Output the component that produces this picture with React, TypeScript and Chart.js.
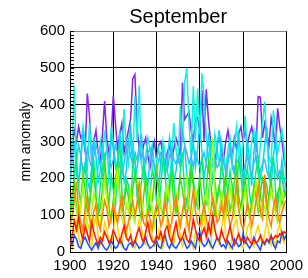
import React, { useEffect, useRef } from "react";
import { Chart, registerables } from "chart.js";

Chart.register(...registerables);

const startYear = 1900;
const endYear = 2000;
const xTicks = [1900, 1920, 1940, 1960, 1980, 2000];
const yTicks = [0, 100, 200, 300, 400, 500, 600];

const purple = [
  240, 290, 330, 300, 340, 310, 320, 270, 430, 370,
  250, 300, 330, 270, 240, 320, 410, 310, 270, 300,
  425, 350, 280, 320, 350, 270, 300, 330, 360, 470,
  482, 340, 280, 250, 290, 310, 260, 230, 270, 300,
  250, 290, 300, 260, 240, 270, 290, 250, 280, 310,
  290, 260, 460, 360, 370, 380, 330, 300, 360, 365,
  330, 440, 300, 442, 360, 300, 260, 240, 290, 320,
  280, 250, 300, 330, 290, 260, 310, 280, 320, 340,
  300, 330, 290, 320, 340, 300, 280, 422, 420, 310,
  350, 320, 290, 364, 330, 280, 390, 340, 300, 250, 220,
];

const turquoise = [
  200, 290, 451, 230, 180, 260, 340, 300, 220, 350,
  260, 200, 170, 230, 300, 250, 330, 280, 210, 340,
  300, 250, 220, 190, 260, 388, 280, 240, 320, 230,
  422, 300, 451, 240, 200, 260, 310, 280, 230, 190,
  250, 280, 230, 300, 270, 220, 190, 260, 350, 280,
  240, 397, 300, 460, 499, 350, 260, 450, 300, 444,
  320, 485, 420, 310, 250, 290, 230, 320, 280, 240,
  300, 260, 220, 280, 310, 250, 290, 340, 270, 230,
  290, 370, 260, 240, 300, 330, 250, 210, 290, 350,
  408, 300, 260, 240, 385, 330, 270, 300, 331, 280, 190,
];

const cyan = [
  180, 250, 300, 210, 190, 240, 330, 280, 200, 170,
  230, 310, 260, 190, 220, 280, 240, 170, 200, 320,
  280, 230, 210, 330, 250, 190, 220, 300, 340, 260,
  200, 230, 270, 320, 240, 210, 180, 260, 290, 230,
  200, 170, 250, 280, 210, 240, 310, 270, 190, 220,
  260, 240, 330, 290, 210, 180, 250, 300, 230, 280,
  350, 270, 200, 240, 310, 260, 190, 220, 280, 330,
  250, 200, 180, 240, 290, 230, 210, 270, 320, 260,
  190, 220, 300, 250, 180, 270, 330, 240, 200, 230,
  290, 340, 210, 180, 260, 300, 220, 190, 250, 200, 170,
];

const skyBlue = [
  230, 270, 210, 250, 290, 260, 220, 240, 280, 250,
  230, 260, 290, 270, 240, 210, 250, 280, 260, 230,
  250, 290, 270, 230, 210, 240, 280, 300, 260, 240,
  270, 250, 290, 300, 260, 240, 270, 280, 250, 230,
  220, 250, 270, 260, 240, 220, 260, 280, 250, 240,
  260, 230, 250, 290, 270, 240, 260, 230, 270, 250,
  230, 250, 270, 240, 220, 260, 280, 250, 230, 240,
  260, 240, 220, 250, 270, 240, 220, 250, 240, 230,
  210, 240, 260, 230, 210, 240, 260, 230, 220, 240,
  250, 220, 200, 230, 250, 220, 200, 220, 200, 170, 150,
];

const springGreen = [
  150, 110, 220, 260, 170, 130, 190, 240, 160, 120,
  200, 250, 140, 110, 180, 230, 270, 150, 130, 210,
  170, 120, 250, 290, 160, 140, 200, 180, 120, 230,
  260, 150, 130, 190, 240, 170, 110, 160, 220, 200,
  140, 120, 180, 250, 210, 130, 160, 230, 190, 110,
  150, 220, 270, 160, 130, 190, 240, 200, 140, 120,
  210, 260, 170, 130, 150, 230, 280, 190, 140, 170,
  240, 200, 120, 160, 220, 180, 130, 150, 250, 210,
  140, 190, 230, 160, 120, 170, 220, 250, 150, 130,
  200, 180, 140, 230, 260, 170, 120, 190, 220, 160, 150,
];

const green = [
  100, 160, 190, 120, 90, 140, 210, 170, 110, 130,
  180, 220, 150, 100, 120, 170, 230, 190, 120, 90,
  140, 200, 240, 160, 110, 130, 180, 150, 100, 170,
  210, 180, 120, 90, 150, 200, 160, 110, 140, 190,
  230, 170, 120, 100, 160, 140, 190, 210, 130, 110,
  150, 200, 170, 120, 90, 140, 220, 180, 130, 160,
  200, 150, 110, 170, 240, 190, 130, 100, 150, 180,
  130, 170, 210, 160, 110, 140, 190, 230, 150, 120,
  170, 200, 140, 100, 130, 180, 150, 110, 160, 200,
  170, 120, 150, 190, 140, 110, 160, 180, 130, 150, 170,
];

const lime = [
  60, 90, 150, 110, 70, 130, 180, 120, 80, 60,
  110, 160, 130, 90, 70, 140, 200, 150, 100, 80,
  120, 170, 230, 140, 90, 70, 130, 110, 160, 100,
  80, 130, 190, 150, 100, 90, 140, 170, 110, 70,
  100, 150, 120, 80, 130, 180, 140, 90, 110, 160,
  120, 80, 100, 150, 210, 130, 90, 120, 170, 140,
  100, 80, 130, 160, 120, 200, 310, 150, 90, 110,
  160, 120, 90, 140, 180, 130, 100, 150, 110, 80,
  130, 170, 120, 90, 110, 150, 190, 130, 100, 140,
  120, 90, 130, 170, 150, 100, 80, 120, 160, 130, 110,
];

const yellow = [
  30, 10, 50, 80, 40, 20, 60, 90, 50, 25,
  15, 70, 100, 40, 20, 35, 80, 60, 30, 10,
  50, 110, 70, 30, 15, 60, 40, 85, 55, 20,
  10, 45, 90, 65, 30, 20, 55, 75, 40, 15,
  25, 60, 35, 10, 50, 90, 70, 30, 20, 65,
  80, 45, 15, 30, 100, 60, 25, 10, 55, 40,
  20, 70, 95, 50, 30, 15, 80, 60, 35, 20,
  60, 105, 50, 25, 10, 45, 75, 90, 40, 20,
  10, 35, 65, 80, 30, 15, 55, 70, 40, 20,
  50, 85, 45, 20, 35, 10, 60, 75, 40, 25, 55,
];

const orange = [
  70, 100, 140, 190, 110, 80, 60, 120, 150, 90,
  70, 110, 130, 80, 60, 100, 140, 120, 70, 90,
  130, 100, 80, 120, 150, 90, 60, 80, 110, 140,
  100, 130, 190, 120, 80, 70, 110, 90, 60, 100,
  130, 110, 70, 90, 140, 100, 60, 80, 120, 150,
  100, 70, 110, 140, 90, 60, 120, 170, 110, 80,
  70, 100, 130, 90, 60, 110, 150, 120, 80, 90,
  130, 100, 160, 110, 70, 90, 140, 190, 120, 80,
  60, 90, 130, 110, 70, 100, 140, 180, 110, 90,
  210, 130, 90, 70, 120, 150, 100, 80, 110, 130, 140,
];

const red = [
  20, 45, 85, 60, 95, 55, 35, 70, 50, 30,
  80, 55, 35, 20, 40, 30, 55, 40, 25, 35,
  60, 45, 30, 25, 50, 70, 40, 30, 45, 20,
  30, 50, 65, 40, 25, 55, 80, 45, 30, 25,
  45, 35, 55, 30, 60, 70, 40, 25, 55, 80,
  45, 30, 40, 60, 35, 25, 50, 90, 60, 40,
  30, 50, 65, 40, 75, 50, 100, 60, 35, 30,
  60, 40, 25, 45, 70, 40, 20, 35, 50, 30,
  35, 25, 40, 30, 20, 35, 25, 30, 45, 30,
  25, 35, 30, 40, 35, 45, 40, 50, 45, 55, 50,
];

const blue = [
  30, 20, 45, 35, 15, 10, 30, 40, 25, 15,
  5, 15, 25, 10, 30, 20, 10, 5, 15, 30,
  20, 10, 15, 35, 25, 10, 5, 20, 25, 15,
  30, 20, 10, 15, 25, 40, 20, 10, 15, 20,
  30, 15, 10, 35, 45, 20, 10, 25, 15, 10,
  20, 30, 40, 25, 10, 15, 30, 20, 10, 45,
  55, 25, 15, 20, 35, 20, 10, 25, 40, 30,
  15, 20, 10, 30, 20, 10, 35, 25, 15, 20,
  50, 30, 20, 10, 20, 40, 25, 15, 5, 30,
  20, 35, 25, 45, 20, 10, 30, 25, 55, 35, 45,
];

// drawn in reverse order: first entry ends up on top
const seriesList = [
  { name: "red", values: red, color: "#ff1800" },
  { name: "blue", values: blue, color: "#1e4cff" },
  { name: "orange", values: orange, color: "#ff8000" },
  { name: "yellow", values: yellow, color: "#ffd400" },
  { name: "lime", values: lime, color: "#a8ff00" },
  { name: "green", values: green, color: "#40e000" },
  { name: "springGreen", values: springGreen, color: "#00ee80" },
  { name: "skyBlue", values: skyBlue, color: "#40b8f0" },
  { name: "cyan", values: cyan, color: "#00d8f8" },
  { name: "turquoise", values: turquoise, color: "#10f0dc" },
  { name: "purple", values: purple, color: "#8424f0" },
];

const FONT = "'Liberation Sans', Arial, Helvetica, sans-serif";

const minorTicks = {
  id: "minorTicks",
  afterDraw(chart: any) {
    const { ctx, chartArea, scales } = chart;
    const y = scales.y;
    ctx.save();
    ctx.strokeStyle = "#000";
    ctx.lineWidth = 1;
    for (let v = y.min; v <= y.max; v += 10) {
      const py = Math.round(y.getPixelForValue(v)) + 0.5;
      ctx.beginPath();
      ctx.moveTo(chartArea.left, py);
      ctx.lineTo(chartArea.left + 4, py);
      ctx.stroke();
    }
    ctx.restore();
  },
};

export default function App() {
  const ref = useRef<HTMLCanvasElement>(null);
  useEffect(() => {
    if (!ref.current) return;
    const years = Array.from({ length: endYear - startYear + 1 }, (_, i) => startYear + i);
    const chart = new Chart(ref.current, {
      type: "line",
      data: {
        datasets: seriesList.map((s) => ({
          label: s.name,
          data: s.values.map((v, i) => ({ x: years[i], y: v })),
          borderColor: s.color,
          backgroundColor: s.color,
          borderWidth: 1.5,
          pointRadius: 0,
          tension: 0,
          fill: false,
        })),
      },
      options: {
        animation: false,
        responsive: false,
        devicePixelRatio: 1,
        layout: { padding: { left: 0, right: 19, top: 0, bottom: 0 } },
        plugins: {
          legend: { display: false },
          tooltip: { enabled: false },
          title: {
            display: true,
            text: "September",
            fullSize: false,
            color: "#000",
            font: { family: FONT, size: 20, weight: "normal" },
            padding: { top: 5, bottom: 2 },
          },
        },
        scales: {
          x: {
            type: "linear",
            min: startYear,
            max: endYear,
            afterBuildTicks: (scale: any) => {
              scale.ticks = xTicks.map((v) => ({ value: v }));
            },
            afterFit: (scale: any) => {
              scale.height = 26;
            },
            ticks: {
              color: "#000",
              padding: 5,
              maxRotation: 0,
              font: { family: FONT, size: 15 },
              callback: (v: any) => String(v),
            },
            grid: { color: "#000", lineWidth: 1, drawTicks: false },
            border: { color: "#000", width: 1 },
          },
          y: {
            min: 0,
            max: 600,
            afterBuildTicks: (scale: any) => {
              scale.ticks = yTicks.map((v) => ({ value: v }));
            },
            afterFit: (scale: any) => {
              scale.width = 70;
            },
            ticks: {
              color: "#000",
              padding: 5,
              font: { family: FONT, size: 15 },
              callback: (v: any) => String(v),
            },
            grid: {
              color: (c: any) => (c.tick && c.tick.value === 600 ? "#808080" : "#000"),
              lineWidth: 1,
              drawTicks: false,
            },
            border: { color: "#000", width: 1 },
            title: {
              display: true,
              text: "mm anomaly",
              color: "#000",
              font: { family: FONT, size: 14 },
              padding: { top: 18, bottom: 0 },
            },
          },
        },
      },
      plugins: [minorTicks],
    } as any);
    return () => chart.destroy();
  }, []);
  return (
    <div style={{ position: "fixed", left: 0, top: 0, width: 308, height: 278, background: "#fff" }}>
      <canvas ref={ref} width={308} height={278} />
    </div>
  );
}
